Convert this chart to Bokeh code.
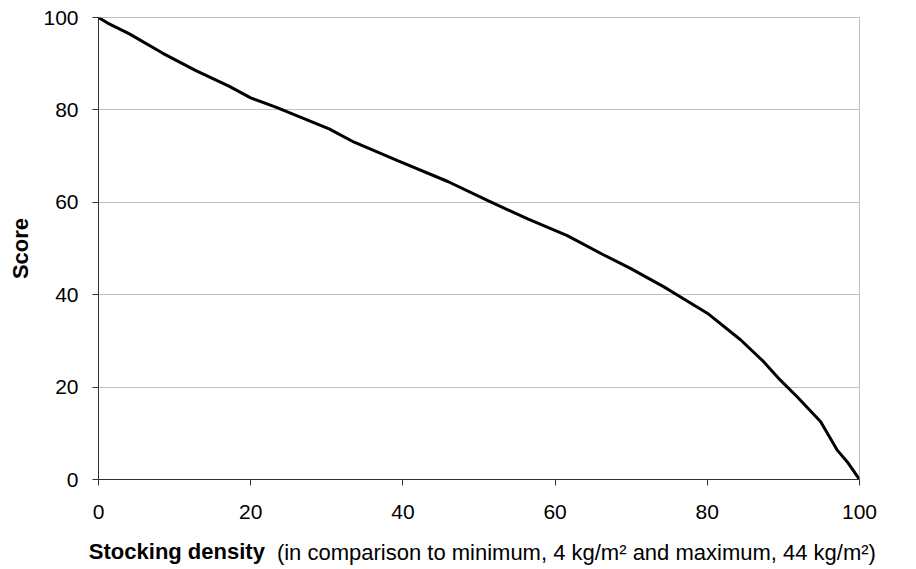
from bokeh.plotting import figure
from bokeh.models import Range1d, FixedTicker, LinearAxis
from bokeh.embed import file_html
from bokeh.resources import INLINE

# Data
density = [0, 1.2, 4.0, 8.4, 12.8, 17.2, 20.0, 23.3, 30.3, 33.6, 39.3, 45.9, 51.1,
           56.4, 61.6, 66.4, 69.9, 74.3, 76.0, 80.0, 84.4, 87.4, 89.6, 91.8, 94.9,
           97.1, 98.4, 100]
score = [100, 98.8, 96.5, 92.3, 88.5, 85.1, 82.6, 80.6, 75.9, 73.0, 69.0, 64.5, 60.4,
         56.4, 52.8, 48.6, 45.7, 41.7, 40.0, 36.0, 30.2, 25.5, 21.5, 17.9, 12.5,
         6.3, 3.8, 0]
x_ticks = [0, 20, 40, 60, 80, 100]
y_ticks = [0, 20, 40, 60, 80, 100]
x_title_bold = "Stocking density"
x_title_rest = "(in comparison to minimum, 4 kg/m\u00b2 and maximum, 44 kg/m\u00b2)"
y_title = "Score"

FONT = "Liberation Sans"

p = figure(width=916, height=569, output_backend="svg", toolbar_location=None,
           x_range=Range1d(0, 100), y_range=Range1d(0, 100),
           min_border_left=98, min_border_right=57, min_border_top=17, min_border_bottom=90)

p.background_fill_color = "white"
p.border_fill_color = "white"
p.outline_line_color = "#c0c0c0"
p.outline_line_width = 1

p.xgrid.visible = False
p.ygrid.grid_line_color = "#c0c0c0"
p.ygrid.grid_line_width = 1
p.ygrid.ticker = FixedTicker(ticks=y_ticks)

p.line(density, score, line_color="black", line_width=3)

for ax in (p.xaxis[0], p.yaxis[0]):
    ax.axis_line_color = "#303030"
    ax.axis_line_width = 1
    ax.major_tick_line_color = "#303030"
    ax.major_tick_in = 0
    ax.major_tick_out = 6
    ax.minor_tick_line_color = None
    ax.major_label_text_font = FONT
    ax.major_label_text_font_size = "21px"
    ax.major_label_text_color = "black"

p.xaxis[0].ticker = FixedTicker(ticks=x_ticks)
p.yaxis[0].ticker = FixedTicker(ticks=y_ticks)
p.xaxis[0].major_label_standoff = 19
p.yaxis[0].major_label_standoff = 14

p.yaxis[0].axis_label = y_title
p.yaxis[0].axis_label_text_font = FONT
p.yaxis[0].axis_label_text_font_size = "22px"
p.yaxis[0].axis_label_text_font_style = "bold"
p.yaxis[0].axis_label_text_color = "black"
p.yaxis[0].axis_label_standoff = 7

# x-axis title in two styles: bold part and regular part on one line,
# drawn as label-only axes below the main x axis
BOLD_POS = 10.3
REST_POS = 62.8


def title_axis(pos, text, style, standoff):
    ax = LinearAxis(ticker=FixedTicker(ticks=[pos]),
                    major_label_overrides={pos: text})
    ax.axis_line_color = None
    ax.major_tick_line_color = None
    ax.minor_tick_line_color = None
    ax.major_tick_in = 0
    ax.major_tick_out = 0
    ax.minor_tick_in = 0
    ax.minor_tick_out = 0
    ax.major_label_text_font = FONT
    ax.major_label_text_font_size = "22px"
    ax.major_label_text_font_style = style
    ax.major_label_text_color = "black"
    ax.major_label_standoff = standoff
    return ax


p.add_layout(title_axis(BOLD_POS, x_title_bold, "bold", 17), "below")
p.add_layout(title_axis(REST_POS, x_title_rest, "normal", -27), "below")

open("out.html", "w").write(file_html(p, INLINE))
